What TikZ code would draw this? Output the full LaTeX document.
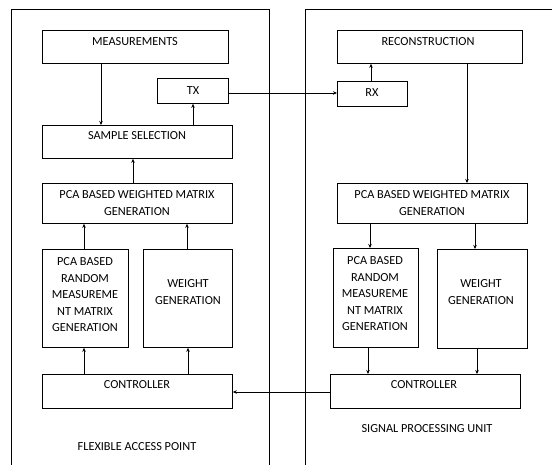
\documentclass[tikz,border=0pt]{standalone}
\usepackage{fontspec}
\setmainfont{Carlito}
\usetikzlibrary{arrows.meta}
\begin{document}
\begin{tikzpicture}[x=1pt,y=-1pt,
  box/.style={draw, line width=0.8pt, inner sep=0pt, anchor=north west},
  lbl/.style={font=\fontsize{12.3}{16.5}\selectfont, align=center, inner sep=0pt},
  arr/.style={-{Stealth[length=4pt,width=3.5pt]}, line width=0.8pt},
  frameline/.style={line width=0.9pt}]
\useasboundingbox (0,0) rectangle (552,464);
% frames
\draw[frameline] (11,470) -- (11,9) -- (269,9) -- (269,470);
\draw[frameline] (305,470) -- (305,9) -- (560,9);
% left boxes
\node[box, minimum width=186pt, minimum height=33pt] (meas) at (42,30) {};
\node[box, minimum width=71pt, minimum height=25pt] (tx) at (157,78) {};
\node[box, minimum width=190pt, minimum height=33pt] (samp) at (42,125) {};
\node[box, minimum width=190pt, minimum height=40pt] (pcal) at (42,183) {};
\node[box, minimum width=86pt, minimum height=98pt] (randl) at (42,249) {};
\node[box, minimum width=89pt, minimum height=98pt] (wgtl) at (143,249) {};
\node[box, minimum width=190pt, minimum height=34pt] (ctrll) at (42,374) {};
% right boxes
\node[box, minimum width=185pt, minimum height=33pt] (reco) at (337,30) {};
\node[box, minimum width=70pt, minimum height=25pt] (rx) at (337,81) {};
\node[box, minimum width=190pt, minimum height=40pt] (pcar) at (337,183) {};
\node[box, minimum width=85pt, minimum height=99pt] (randr) at (333,248) {};
\node[box, minimum width=90pt, minimum height=99pt] (wgtr) at (437,249) {};
\node[box, minimum width=190pt, minimum height=34pt] (ctrlr) at (330,374) {};
% texts
\node[lbl] (meas-t) at (135,42) {MEASUREMENTS};
\node[lbl] (tx-t) at (193,90.5) {TX};
\node[lbl] (samp-t) at (137,136) {SAMPLE SELECTION};
\node[lbl] (pcal-t) at (137,203) {PCA BASED WEIGHTED MATRIX\\GENERATION};
\node[lbl] (randl-t) at (85,295) {PCA BASED\\RANDOM\\MEASUREME\\NT MATRIX\\GENERATION};
\node[lbl] (wgtl-t) at (188,292) {WEIGHT\\GENERATION};
\node[lbl] (ctrll-t) at (137,385) {CONTROLLER};
\node[lbl] (fap) at (137,447) {FLEXIBLE ACCESS POINT};
\node[lbl] (reco-t) at (428,42) {RECONSTRUCTION};
\node[lbl] (rx-t) at (372,93) {RX};
\node[lbl] (pcar-t) at (432,203) {PCA BASED WEIGHTED MATRIX\\GENERATION};
\node[lbl] (randr-t) at (375,294) {PCA BASED\\RANDOM\\MEASUREME\\NT MATRIX\\GENERATION};
\node[lbl] (wgtr-t) at (481,292) {WEIGHT\\GENERATION};
\node[lbl] (ctrlr-t) at (424,385) {CONTROLLER};
\node[lbl] (spu) at (427,429) {SIGNAL PROCESSING UNIT};
% left connectors
\draw[arr] (101,0 |- meas.south) -- (101,0 |- samp.north);
\draw[arr] (193,0 |- samp.north) -- (193,0 |- tx.south);
\draw[arr] (133,0 |- pcal.north) -- (133,0 |- samp.south);
\draw[arr] (84,0 |- randl.north) -- (84,0 |- pcal.south);
\draw[arr] (187,0 |- wgtl.north) -- (187,0 |- pcal.south);
\draw[arr] (84,0 |- ctrll.north) -- (84,0 |- randl.south);
\draw[arr] (188,0 |- ctrll.north) -- (188,0 |- wgtl.south);
% cross connectors
\draw[arr] (tx.east |- 0,93) -- (rx.west |- 0,93);
\draw[arr] (ctrlr.west |- 0,392) -- (ctrll.east |- 0,392);
% right connectors
\draw[arr] (371,0 |- rx.north) -- (371,0 |- reco.south);
\draw[arr] (467,0 |- reco.south) -- (467,0 |- pcar.north);
\draw[arr] (370,0 |- pcar.south) -- (370,0 |- randr.north);
\draw[arr] (475,0 |- pcar.south) -- (475,0 |- wgtr.north);
\draw[arr] (368,0 |- randr.south) -- (368,0 |- ctrlr.north);
\draw[arr] (477,0 |- wgtr.south) -- (477,0 |- ctrlr.north);
\end{tikzpicture}
\end{document}
